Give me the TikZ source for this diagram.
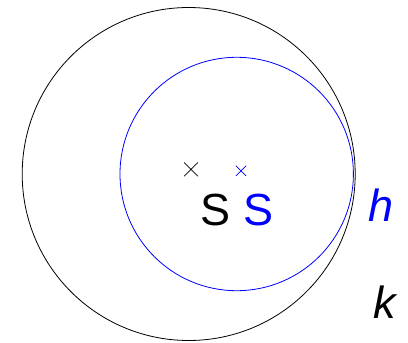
\documentclass[tikz,border=0pt]{standalone}
\usepackage{fontspec}
\setmainfont{Liberation Sans}
\usetikzlibrary{shapes.misc}

\begin{document}
\begin{tikzpicture}[x=1pt, y=-1pt,
    ring/.style={circle, draw, line width=0.8pt, inner sep=0pt},
    centre/.style={cross out, draw, line width=0.7pt, inner sep=0pt},
    lbl/.style={inner sep=0pt, font=\fontsize{45}{45}\selectfont}
]
\useasboundingbox (0,0) rectangle (408,343);
\node[ring, minimum size=333pt] (k) at (188.7,174) {};
\node[ring, blue, minimum size=233.4pt] (h) at (236.7,174) {};
\node[centre, minimum size=13pt] (mk) at (191,169.3) {};
\node[centre, blue, minimum size=9.5pt] (mh) at (241,170.8) {};
\node[lbl] (sk) at (216,209.7) {S};
\node[lbl, blue] (sh) at (259,209.7) {S};
\node[lbl, blue] (lh) at (381,205.5) {\itshape h};
\node[lbl] (lk) at (384.7,302.5) {\itshape k};
\end{tikzpicture}
\end{document}
